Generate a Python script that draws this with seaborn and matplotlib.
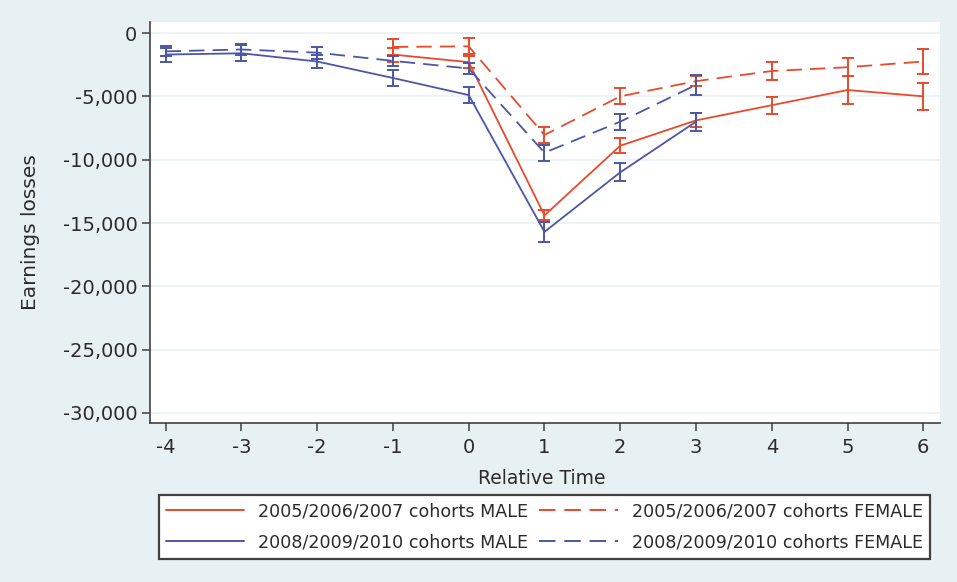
import matplotlib
matplotlib.use("Agg")
import matplotlib.pyplot as plt
import seaborn as sns
import pandas as pd
from matplotlib.lines import Line2D
from matplotlib.ticker import FuncFormatter

# Datos
t_old = [-1, 0, 1, 2, 3, 4, 5, 6]
t_new = [-4, -3, -2, -1, 0, 1, 2, 3]

old_male = [-1700, -2300, -14400, -8900, -6900, -5700, -4500, -5000]
old_male_ci = [550, 470, 400, 600, 550, 680, 1100, 1090]
old_female = [-1100, -1050, -8050, -5000, -3800, -3000, -2700, -2250]
old_female_ci = [600, 630, 600, 620, 400, 700, 690, 990]

new_male = [-1700, -1600, -2250, -3550, -4900, -15700, -11000, -7000]
new_male_ci = [550, 630, 550, 650, 620, 790, 700, 700]
new_female = [-1450, -1300, -1550, -2200, -2800, -9450, -7000, -4100]
new_female_ci = [400, 400, 470, 400, 400, 630, 630, 790]

labels = ["2005/2006/2007 cohorts MALE", "2008/2009/2010 cohorts MALE",
          "2005/2006/2007 cohorts FEMALE", "2008/2009/2010 cohorts FEMALE"]
x_ticks = list(range(-4, 7))
y_ticks = [0, -5000, -10000, -15000, -20000, -25000, -30000]

# Estilo
sns.set_theme(style="ticks")
plt.rcParams['font.family'] = ['DejaVu Sans']

bg = "#e7f0f2"
red = "#e84a2b"
blue = "#4b57a6"
axis_col = "#404040"
txt_col = "#2b2b2b"
dash = (0, (8.5, 4.5))

fig = plt.figure(figsize=(9.57, 5.82), dpi=100, facecolor=bg)
ax = fig.add_axes([0.1567, 0.2732, 0.8255, 0.689])
ax.set_facecolor("white")

series = [
    (t_old, old_male, old_male_ci, red, "-"),
    (t_new, new_male, new_male_ci, blue, "-"),
    (t_old, old_female, old_female_ci, red, dash),
    (t_new, new_female, new_female_ci, blue, dash),
]

for x, y, ci, col, ls in series:
    df = pd.DataFrame({"t": x, "v": y})
    sns.lineplot(data=df, x="t", y="v", ax=ax, color=col, linestyle=ls,
                 linewidth=1.3, zorder=3)
    ax.errorbar(x, y, yerr=ci, fmt="none", ecolor=col, elinewidth=1.4,
                capsize=4, capthick=1.4, zorder=3)

# Ejes
ax.set_xlim(-4.207, 6.22)
ax.set_ylim(-30790, 870)
ax.set_xticks(x_ticks)
ax.set_yticks(y_ticks)
ax.yaxis.set_major_formatter(FuncFormatter(lambda v, p: f"{int(v):,}"))
ax.xaxis.set_major_formatter(FuncFormatter(lambda v, p: f"{int(v)}"))
for yt in y_ticks:
    ax.axhline(yt, color="#e8f1f3", linewidth=1.2, zorder=1)

for s in ["top", "right"]:
    ax.spines[s].set_visible(False)
for s in ["left", "bottom"]:
    ax.spines[s].set_color(axis_col)
    ax.spines[s].set_linewidth(1.2)
ax.tick_params(axis="both", direction="out", length=6, width=1.1,
               color=axis_col, labelsize=14, labelcolor=txt_col, pad=3)
ax.tick_params(axis="x", pad=5)

ax.set_xlabel("Relative Time", fontsize=13.5, color=txt_col)
ax.set_ylabel("Earnings losses", fontsize=14.5, color=txt_col)
ax.xaxis.set_label_coords(0.4962, -0.115)
ax.yaxis.set_label_coords(-0.139, 0.475)

# Leyenda
handles = [Line2D([], [], color=red, lw=1.4),
           Line2D([], [], color=blue, lw=1.4),
           Line2D([], [], color=red, lw=1.4, linestyle=dash),
           Line2D([], [], color=blue, lw=1.4, linestyle=dash)]
leg = fig.legend(handles, labels, ncol=2, loc="center",
                 bbox_to_anchor=(0.5685, 0.0945), fontsize=12.6,
                 frameon=True, fancybox=False, framealpha=1,
                 edgecolor=axis_col, handlelength=4.5, handletextpad=0.8,
                 columnspacing=0.6, labelspacing=0.75, borderpad=0.4,
                 borderaxespad=0)
leg.get_frame().set_linewidth(1.6)
for txt in leg.get_texts():
    txt.set_color(txt_col)

fig.savefig("out.png", dpi=100, facecolor=bg)
